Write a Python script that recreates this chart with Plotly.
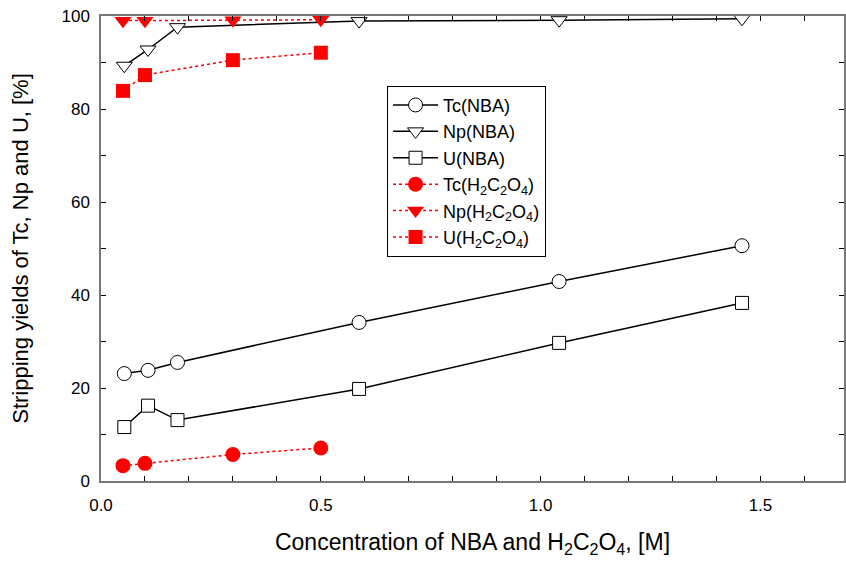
import plotly.graph_objects as go

x_nba = [0.053, 0.107, 0.174, 0.587, 1.042, 1.458]
tc_nba = [23.1, 23.8, 25.5, 34.1, 42.9, 50.6]
np_nba = [89.3, 92.8, 97.6, 98.9, 99.1, 99.4]
u_nba = [11.6, 16.2, 13.1, 19.8, 29.7, 38.3]

x_ox = [0.05, 0.1, 0.3, 0.5]
tc_ox = [3.3, 3.8, 5.7, 7.1]
np_ox = [99.0, 99.0, 99.1, 99.2]
u_ox = [83.9, 87.3, 90.5, 92.1]

names = ["Tc(NBA)", "Np(NBA)", "U(NBA)",
         "Tc(H<sub>2</sub>C<sub>2</sub>O<sub>4</sub>)",
         "Np(H<sub>2</sub>C<sub>2</sub>O<sub>4</sub>)",
         "U(H<sub>2</sub>C<sub>2</sub>O<sub>4</sub>)"]

fig = go.Figure()
black_line = dict(color="black", width=1.5)
red_line = dict(color="red", width=1.5, dash="dot")
sym = ["circle", "triangle-down", "square"]
sizes = [14, 14, 13]
for ys, s, sz, nm in zip([tc_nba, np_nba, u_nba], sym, sizes, names[:3]):
    fig.add_trace(go.Scatter(x=x_nba, y=ys, name=nm, mode="lines+markers",
                             line=black_line,
                             marker=dict(symbol=s, size=sz, color="white",
                                         line=dict(color="black", width=1))))
for ys, s, sz, nm in zip([tc_ox, np_ox, u_ox], sym, sizes, names[3:]):
    fig.add_trace(go.Scatter(x=x_ox, y=ys, name=nm, mode="lines+markers",
                             line=red_line,
                             marker=dict(symbol=s, size=sz + 1, color="red",
                                         line=dict(color="red", width=0))))

tick_font = dict(family="Liberation Sans, Arial", size=17, color="black")
axis_common = dict(showline=True, linecolor="#777", linewidth=1.5, mirror="ticks",
                   ticks="inside", ticklen=5, tickcolor="black", tickwidth=1,
                   showgrid=False, zeroline=False, tickfont=tick_font)

fig.update_xaxes(range=[0, 1.69], dtick=0.5, tickformat=".1f", ticklabelstandoff=8,
                 minor=dict(dtick=0.1, ticks="inside", ticklen=5, tickcolor="black"),
                 title=dict(text="Concentration of NBA and H<sub>2</sub>C<sub>2</sub>O<sub>4</sub>, [M]",
                            font=dict(family="Liberation Sans, Arial", size=23, color="black"),
                            standoff=20),
                 **axis_common)
fig.update_yaxes(range=[0, 100], dtick=20, ticklabelstandoff=6,
                 minor=dict(dtick=10, ticks="inside", ticklen=5, tickcolor="black"),
                 title=dict(text="Stripping yields of Tc, Np and U, [%]",
                            font=dict(family="Liberation Sans, Arial", size=22, color="black"),
                            standoff=27),
                 **axis_common)

fig.update_layout(
    width=846, height=563,
    margin=dict(l=101, r=0, t=16, b=82),
    plot_bgcolor="white", paper_bgcolor="white",
    legend=dict(x=0.385, y=0.85, xanchor="left", yanchor="top",
                bgcolor="white", bordercolor="black", borderwidth=1,
                font=dict(family="Liberation Sans, Arial", size=18, color="black"),
                itemwidth=45, tracegroupgap=0),
    font=dict(family="Liberation Sans, Arial"),
)

fig.write_html("out.html")
